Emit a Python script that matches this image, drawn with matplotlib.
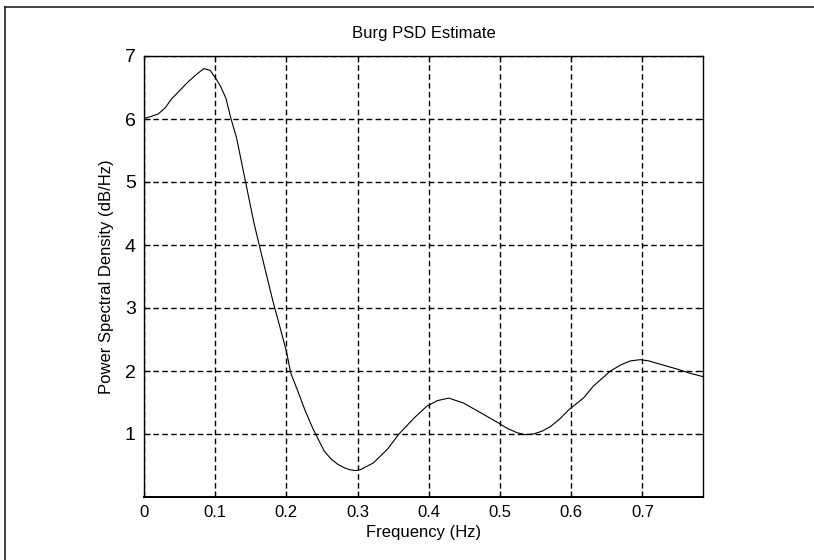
import matplotlib
matplotlib.use("Agg")
import matplotlib.pyplot as plt
from matplotlib.lines import Line2D

# Burg PSD estimate
freq = [0.0, 0.01, 0.02, 0.03, 0.038, 0.05, 0.062, 0.075, 0.084, 0.093,
        0.101, 0.107, 0.115, 0.122, 0.130, 0.143, 0.154, 0.165, 0.181, 0.192,
        0.200, 0.206, 0.216, 0.226, 0.237, 0.253, 0.263, 0.272, 0.282, 0.290,
        0.298, 0.305, 0.322, 0.342, 0.358, 0.379, 0.397, 0.412, 0.428, 0.449,
        0.477, 0.497, 0.510, 0.524, 0.535, 0.547, 0.560, 0.571, 0.584, 0.597,
        0.617, 0.631, 0.655, 0.670, 0.683, 0.697, 0.709, 0.721, 0.749, 0.765,
        0.785]
psd = [6.01, 6.04, 6.08, 6.18, 6.31, 6.45, 6.59, 6.72, 6.80, 6.77,
       6.64, 6.53, 6.33, 6.01, 5.70, 4.98, 4.37, 3.85, 3.11, 2.65,
       2.31, 1.97, 1.68, 1.38, 1.09, 0.73, 0.60, 0.52, 0.46, 0.43,
       0.42, 0.44, 0.54, 0.76, 1.00, 1.25, 1.44, 1.53, 1.57, 1.49,
       1.31, 1.18, 1.09, 1.02, 0.99, 1.00, 1.05, 1.12, 1.24, 1.39,
       1.57, 1.76, 2.00, 2.10, 2.16, 2.18, 2.16, 2.12, 2.03, 1.97,
       1.91]

xticks = [0, 0.1, 0.2, 0.3, 0.4, 0.5, 0.6, 0.7]
xticklabels = ["0", "0.1", "0.2", "0.3", "0.4", "0.5", "0.6", "0.7"]
yticks = [1, 2, 3, 4, 5, 6, 7]

plt.rcParams["font.family"] = ["Liberation Sans", "DejaVu Sans"]

fig = plt.figure(figsize=(8.14, 5.6), dpi=100)
ax = fig.add_axes([144 / 814, 1 - 497 / 560, 559 / 814, 441 / 560])

ax.plot(freq, psd, color="black", lw=0.8, zorder=3)

ax.set_xlim(0, 0.785)
ax.set_ylim(0, 7)
ax.set_xticks(xticks)
ax.set_xticklabels(xticklabels, fontsize=12)
ax.set_yticks(yticks)
ax.set_yticklabels([str(v) for v in yticks], fontsize=14)

ax.grid(True, color="black", lw=1.0, linestyle=(0, (4.0, 2.4)), zorder=1)
ax.tick_params(direction="in", top=True, right=True, length=4, width=0.8, pad=6)
for s in ax.spines.values():
    s.set_linewidth(1.0)
ax.spines["bottom"].set_linewidth(1.4)

ax.set_title("Burg PSD Estimate", fontsize=12, pad=13)
ax.set_xlabel("Frequency (Hz)", fontsize=12, labelpad=3)
ax.set_ylabel("Power Spectral Density (dB/Hz)", fontsize=12, labelpad=8)

# outer frame (left and top edges visible in the scan)
fig.add_artist(Line2D([5 / 814, 5 / 814], [0, 1 - 7 / 560], transform=fig.transFigure,
                      color="#222222", lw=1.2))
fig.add_artist(Line2D([5 / 814, 1], [1 - 7 / 560, 1 - 7 / 560], transform=fig.transFigure,
                      color="#222222", lw=1.2))

fig.savefig("out.png", dpi=100)
